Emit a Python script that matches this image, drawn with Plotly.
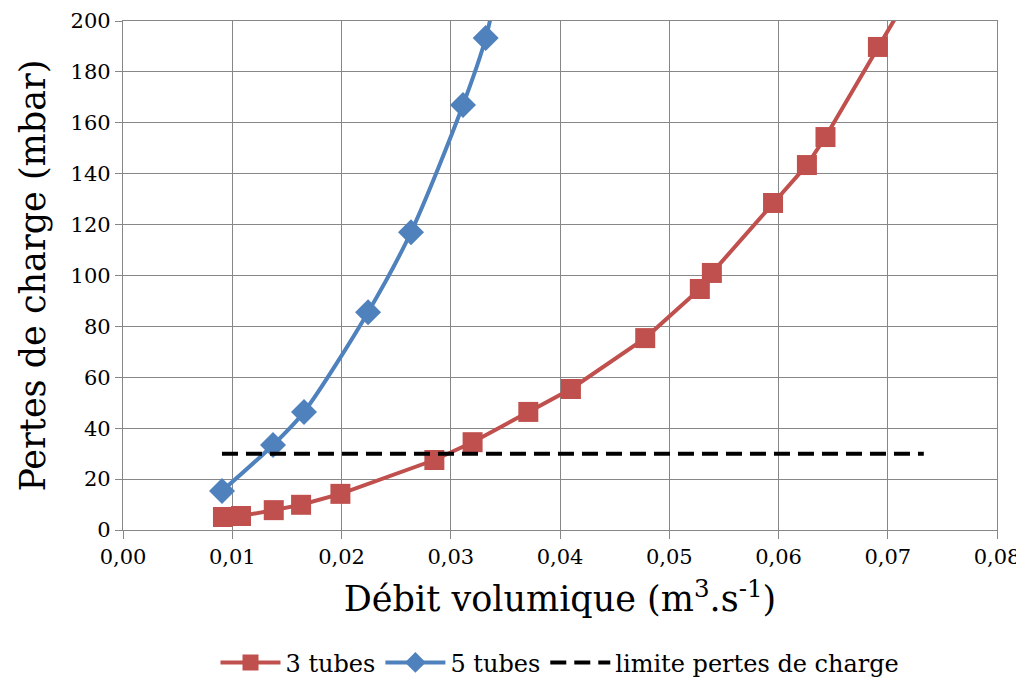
import plotly.graph_objects as go

# 3 tubes
debit_3 = [0.00915, 0.0108, 0.0138, 0.0163, 0.0199, 0.0285, 0.0320, 0.0371, 0.0410,
           0.0478, 0.0528, 0.0539, 0.0595, 0.0626, 0.0643, 0.0691, 0.0730]
pertes_3 = [5.1, 5.5, 7.8, 9.9, 14.2, 27.5, 34.5, 46.4, 55.4,
            75.4, 94.7, 101.0, 128.5, 143.4, 154.4, 189.8, 218.0]

# 5 tubes
debit_5 = [0.00906, 0.01373, 0.01657, 0.02243, 0.02636, 0.03112, 0.0332, 0.0350]
pertes_5 = [15.3, 33.4, 46.4, 85.6, 117.0, 167.0, 193.3, 230.0]

# limite
debit_lim = [0.00906, 0.0733]
pertes_lim = [30, 30]

RED = '#C0504D'
BLUE = '#4F81BD'
GRID = '#878787'
FONT = 'DejaVu Serif'

fig = go.Figure()
fig.add_trace(go.Scatter(
    x=debit_3, y=pertes_3, name='3 tubes', mode='lines+markers',
    line=dict(color=RED, width=4),
    marker=dict(symbol='square', size=20, color=RED),
))
fig.add_trace(go.Scatter(
    x=debit_5, y=pertes_5, name='5 tubes', mode='lines+markers',
    line=dict(color=BLUE, width=4, shape='spline', smoothing=0.8),
    marker=dict(symbol='diamond', size=20, color=BLUE),
))
fig.add_trace(go.Scatter(
    x=debit_lim, y=pertes_lim, name='limite pertes de charge', mode='lines',
    line=dict(color='black', width=4, dash='16px,8px'),
))

# page has an 8px body margin
fig.update_layout(
    width=1016, height=673,
    margin=dict(l=115, r=27, t=13, b=151, autoexpand=False),
    plot_bgcolor='white',
    separators=', ',
    font=dict(family=FONT, color='black', size=21),
    legend=dict(
        orientation='h', x=0.5, xanchor='center', y=-0.261, yanchor='middle',
        font=dict(family=FONT, size=24), itemwidth=60,
    ),
)
fig.update_xaxes(
    range=[0, 0.08], dtick=0.01, tickformat='.2f',
    showgrid=True, gridcolor=GRID, gridwidth=1.3,
    showline=True, linecolor=GRID, linewidth=1.3, mirror=True,
    ticks='outside', ticklen=8, tickcolor=GRID, tickwidth=1.3,
    zeroline=False, tickfont=dict(family=FONT, size=21),
    title=dict(text='Débit volumique (m<sup>3</sup>.s<sup>-1</sup>)',
               font=dict(family=FONT, size=35), standoff=18),
)
fig.update_yaxes(
    range=[0, 200], dtick=20,
    showgrid=True, gridcolor=GRID, gridwidth=1.3,
    showline=True, linecolor=GRID, linewidth=1.3, mirror=True,
    ticks='outside', ticklen=7, tickcolor=GRID, tickwidth=1.3,
    zeroline=False, tickfont=dict(family=FONT, size=21),
)
# y title as a rotated annotation
fig.add_annotation(
    text='Pertes de charge (mbar)', textangle=-90,
    x=-0.104, y=0.5, xref='paper', yref='paper', xanchor='center', yanchor='middle',
    showarrow=False, font=dict(family=FONT, size=35, color='black'),
)

fig.write_html('out.html')
